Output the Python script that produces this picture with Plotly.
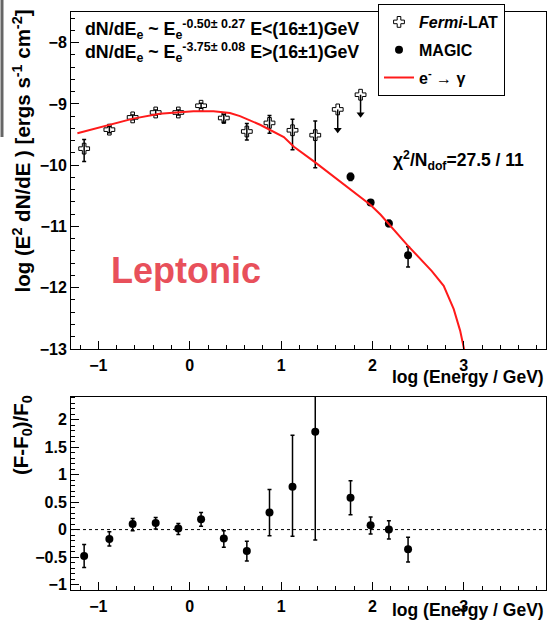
import plotly.graph_objects as go

# ---------------- data ----------------
fermi_x = [-1.156, -0.88, -0.625, -0.373, -0.125, 0.124, 0.373, 0.625, 0.873, 1.125, 1.374]
fermi_y = [-9.73, -9.42, -9.22, -9.14, -9.14, -9.03, -9.23, -9.45, -9.31, -9.43, -9.51]
fermi_eu = [0.15, 0.05, 0.04, 0.04, 0.04, 0.04, 0.06, 0.13, 0.12, 0.18, 0.23]
fermi_ed = [0.21, 0.05, 0.04, 0.04, 0.04, 0.04, 0.07, 0.14, 0.17, 0.32, 0.53]

ul_x = [1.62, 1.87]
ul_y = [-9.09, -8.85]
ul_tip = [-9.42, -9.17]

magic_x = [1.76, 1.98, 2.18, 2.39]
magic_y = [-10.19, -10.61, -10.95, -11.47]
magic_eu = [0.06, 0.04, 0.05, 0.14]
magic_ed = [0.06, 0.04, 0.05, 0.19]

model_x = [-1.23, -0.87, -0.62, -0.33, 0.04, 0.26, 0.44, 0.55, 0.66, 0.77, 1.03, 1.14,
           1.37, 1.72, 1.98, 2.09, 2.17, 2.38, 2.65, 2.78, 2.89, 2.96, 3.01]
model_y = [-9.48, -9.34, -9.24, -9.16, -9.12, -9.12, -9.15, -9.20, -9.27, -9.34, -9.54, -9.70,
           -9.95, -10.35, -10.65, -10.81, -10.95, -11.30, -11.73, -11.97, -12.35, -12.70, -13.05]

res_x = fermi_x + magic_x
res_y = [-0.48, -0.17, 0.10, 0.12, 0.02, 0.19, -0.16, -0.39, 0.31, 0.78, 1.78, 0.58, 0.08, 0.00, -0.36]
res_eu = [0.21, 0.13, 0.10, 0.10, 0.09, 0.12, 0.14, 0.18, 0.42, 0.94, 1.00, 0.31, 0.15, 0.16, 0.22]
res_ed = [0.21, 0.13, 0.12, 0.11, 0.11, 0.13, 0.16, 0.18, 0.42, 0.90, 1.97, 0.31, 0.16, 0.17, 0.23]

top_yticks = [-13, -12, -11, -10, -9, -8]
bot_yticks = [-1, -0.5, 0, 0.5, 1, 1.5, 2]
bot_yticklabels = ["−1", "−0.5", "0", "0.5", "1", "1.5", "2"]
xticks = [-1, 0, 1, 2, 3]

# ---------------- figure ----------------
W, H = 556, 623
ML, MR, MT, MB = 71, 10, 12, 33
ph = H - MT - MB
def py(p):  # pixel y -> paper
    return (H - MB - p) / ph
def px(p):
    return (p - ML) / (W - ML - MR)

FONT = "Liberation Sans"
fig = go.Figure()

fig.add_trace(go.Scatter(
    x=fermi_x, y=fermi_y, mode="markers",
    marker=dict(symbol="cross-open", size=9, color="black", line=dict(width=1, color="black")),
    error_y=dict(type="data", array=fermi_eu, arrayminus=fermi_ed, color="black", thickness=1.5, width=2),
    name="<i>Fermi</i>-LAT", legendgroup="a", xaxis="x", yaxis="y"))

fig.add_trace(go.Scatter(
    x=magic_x, y=magic_y, mode="markers",
    marker=dict(symbol="circle", size=8, color="black"),
    error_y=dict(type="data", array=magic_eu, arrayminus=magic_ed, color="black", thickness=1.5, width=2),
    name="MAGIC", legendgroup="b", xaxis="x", yaxis="y"))

fig.add_trace(go.Scatter(
    x=model_x, y=model_y, mode="lines", line=dict(color="#ff1a1a", width=2),
    name="e<sup>-</sup> → γ", legendgroup="c", xaxis="x", yaxis="y"))

for xu, yu, yt in zip(ul_x, ul_y, ul_tip):
    fig.add_trace(go.Scatter(
        x=[xu, xu], y=[yu, yt], mode="lines", line=dict(color="black", width=1.5),
        showlegend=False, xaxis="x", yaxis="y"))
fig.add_trace(go.Scatter(
    x=ul_x, y=ul_tip, mode="markers",
    marker=dict(symbol="triangle-down", size=7, color="black"),
    showlegend=False, xaxis="x", yaxis="y"))
fig.add_trace(go.Scatter(
    x=ul_x, y=ul_y, mode="markers",
    marker=dict(symbol="cross-open", size=9, color="black", line=dict(width=1, color="black")),
    showlegend=False, xaxis="x", yaxis="y"))

# residual panel
fig.add_trace(go.Scatter(
    x=[-1.3, 3.9], y=[0, 0], mode="lines", line=dict(color="black", width=1, dash="dot"),
    showlegend=False, xaxis="x2", yaxis="y2"))
fig.add_trace(go.Scatter(
    x=res_x, y=res_y, mode="markers",
    marker=dict(symbol="circle", size=8, color="black"),
    error_y=dict(type="data", array=res_eu, arrayminus=res_ed, color="black", thickness=1.5, width=2),
    showlegend=False, xaxis="x2", yaxis="y2"))

tickfont = dict(family=FONT, size=16, color="black", weight="bold")
axcommon = dict(showline=True, linecolor="black", linewidth=1, mirror=True, ticks="inside",
                ticklen=8, tickcolor="black", tickwidth=1, showgrid=False, zeroline=False,
                tickfont=tickfont)

fig.update_layout(
    width=W, height=H, plot_bgcolor="white", paper_bgcolor="white",
    margin=dict(l=ML, r=MR, t=MT, b=MB, autoexpand=False),
    font=dict(family=FONT, color="black"),
    xaxis=dict(domain=[0, 1], anchor="y", range=[-1.3, 3.9], tickvals=xticks, ticklabelstandoff=2,
               minor=dict(ticks="inside", ticklen=4, dtick=0.2, tickcolor="black", showgrid=False),
               **axcommon),
    yaxis=dict(domain=[py(349), 1], anchor="x", range=[-13, -7.5], tickvals=top_yticks,
               minor=dict(ticks="inside", ticklen=4, dtick=0.2, tickcolor="black", showgrid=False),
               **axcommon),
    xaxis2=dict(domain=[0, 1], anchor="y2", range=[-1.3, 3.9], tickvals=xticks, ticklabelstandoff=2,
                minor=dict(ticks="inside", ticklen=4, dtick=0.2, tickcolor="black", showgrid=False),
                **axcommon),
    yaxis2=dict(domain=[0, py(396.7)], anchor="x2", range=[-1.1, 2.42], tickvals=bot_yticks,
                ticktext=bot_yticklabels,
                minor=dict(ticks="inside", ticklen=4, dtick=0.1, tickcolor="black", showgrid=False),
                **axcommon),
    legend=dict(x=px(378), y=py(4), xanchor="left", yanchor="top",
                bordercolor="black", borderwidth=1, bgcolor="white",
                font=dict(family=FONT, size=16, color="black", weight="bold"),
                tracegroupgap=4, itemwidth=30, traceorder="grouped"),
)

ann = []
def A(text, x, y, xa="left", ya="middle", size=15, color="black", angle=0, bold=True):
    ann.append(dict(text=text, x=x, y=y, xref="paper", yref="paper", xanchor=xa, yanchor=ya,
                    showarrow=False, textangle=angle,
                    font=dict(family=FONT, size=size, color=color, weight="bold" if bold else "normal")))

A("dN/dE<sub>e</sub> ~ E<sub>e</sub><sup>-0.50± 0.27</sup> E&lt;(16±1)GeV", px(83), py(29), size=17.8)
A("dN/dE<sub>e</sub> ~ E<sub>e</sub><sup>-3.75± 0.08</sup> E&gt;(16±1)GeV", px(83), py(53), size=17.8)
A("χ<sup>2</sup>/N<sub>dof</sub>=27.5 / 11", px(391), py(160), size=17.5)
A("Leptonic", px(186), py(270), xa="center", size=36, color="#e8505b")
A("log (Energy / GeV)", 1, py(377), xa="right", size=17.5)
A("log (Energy / GeV)", 1, py(610), xa="right", size=17.5)
A("log (E<sup>2</sup> dN/dE ) [ergs s<sup>-1</sup> cm<sup>-2</sup>]", px(22), py(8), xa="center", ya="top",
  size=20.5, angle=-90)
A("(F-F<sub>0</sub>)/F<sub>0</sub>", px(22), py(393), xa="center", ya="top", size=20.5, angle=-90)
fig.update_layout(annotations=ann)

fig.add_shape(type="line", xref="paper", yref="paper", x0=px(2), x1=px(2), y0=py(0), y1=py(137),
              line=dict(color="#666666", width=3))

fig.write_html("out.html", config={"displayModeBar": False},
               post_script="document.body.style.margin='0px';document.body.style.overflow='hidden';")
